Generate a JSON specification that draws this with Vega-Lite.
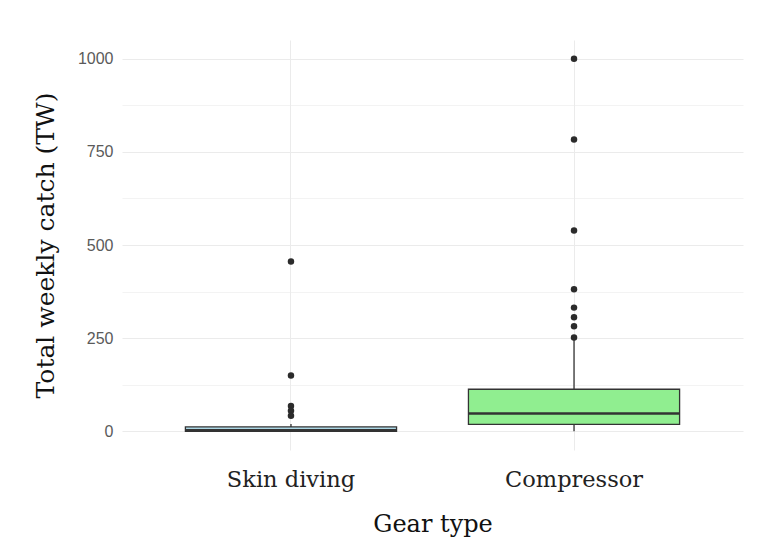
{
  "$schema": "https://vega.github.io/schema/vega-lite/v6.json",
  "width": 621,
  "height": 410,
  "autosize": {"type": "none"},
  "padding": {"left": 122, "top": 40, "right": 23, "bottom": 96},
  "background": "white",
  "config": {
    "view": {"stroke": null},
    "axis": {"domain": false, "ticks": false, "gridColor": "#ebebeb"}
  },
  "datasets": {
    "summary": [
      {"gear": "Skin diving", "lower": 0, "q1": 0, "median": 3, "q3": 12, "upper": 20},
      {"gear": "Compressor", "lower": 0, "q1": 19, "median": 48, "q3": 113, "upper": 245}
    ],
    "outliers": [
      {"gear": "Skin diving", "value": 456},
      {"gear": "Skin diving", "value": 150},
      {"gear": "Skin diving", "value": 68},
      {"gear": "Skin diving", "value": 55},
      {"gear": "Skin diving", "value": 42},
      {"gear": "Compressor", "value": 1000},
      {"gear": "Compressor", "value": 783},
      {"gear": "Compressor", "value": 539},
      {"gear": "Compressor", "value": 381},
      {"gear": "Compressor", "value": 332},
      {"gear": "Compressor", "value": 306},
      {"gear": "Compressor", "value": 282},
      {"gear": "Compressor", "value": 252}
    ]
  },
  "encoding": {
    "x": {
      "field": "gear",
      "type": "nominal",
      "sort": ["Skin diving", "Compressor"],
      "scale": {"type": "band", "paddingInner": 0.254, "paddingOuter": 0.224},
      "axis": {
        "title": "Gear type",
        "grid": true,
        "gridWidth": 1,
        "bandPosition": 0.5,
        "labelAngle": 0,
        "labelFont": "DejaVu Serif",
        "labelFontSize": 22.5,
        "labelColor": "#222222",
        "labelPadding": 18,
        "titleFont": "DejaVu Serif",
        "titleFontSize": 24,
        "titleFontWeight": "normal",
        "titleColor": "#111111",
        "titlePadding": 22
      }
    }
  },
  "layer": [
    {
      "data": {"name": "summary"},
      "mark": {"type": "rule", "color": "#333333", "strokeWidth": 1.3},
      "encoding": {
        "y": {
          "field": "lower",
          "type": "quantitative",
          "scale": {"domain": [-50, 1050], "nice": false, "zero": false},
          "axis": {
            "title": "Total weekly catch (TW)",
            "values": [0, 125, 250, 375, 500, 625, 750, 875, 1000],
            "format": "d",
            "labelExpr": "datum.value % 250 === 0 ? datum.label : ''",
            "gridWidth": {"condition": {"test": "datum.value % 250 === 0", "value": 1.1}, "value": 0.6},
            "labelFont": "Liberation Sans",
            "labelFontSize": 16,
            "labelColor": "#5a5a5a",
            "labelPadding": 9,
            "titleFont": "DejaVu Serif",
            "titleFontSize": 25,
            "titleFontWeight": "normal",
            "titleColor": "#111111",
            "titlePadding": 19
          }
        },
        "y2": {"field": "upper"}
      }
    },
    {
      "data": {"name": "summary"},
      "mark": {"type": "bar", "stroke": "#333333", "strokeWidth": 1.3},
      "encoding": {
        "y": {"field": "q1", "type": "quantitative"},
        "y2": {"field": "q3"},
        "color": {
          "field": "gear",
          "type": "nominal",
          "scale": {"domain": ["Skin diving", "Compressor"], "range": ["#add8e6", "#90ee90"]},
          "legend": null
        }
      }
    },
    {
      "data": {"name": "summary"},
      "mark": {"type": "tick", "color": "#333333", "thickness": 2.6, "size": 211, "orient": "horizontal", "opacity": 1},
      "encoding": {
        "y": {"field": "median", "type": "quantitative"}
      }
    },
    {
      "data": {"name": "outliers"},
      "mark": {"type": "point", "filled": true, "color": "#2b2b2b", "size": 42, "opacity": 1},
      "encoding": {
        "y": {"field": "value", "type": "quantitative"}
      }
    }
  ]
}
